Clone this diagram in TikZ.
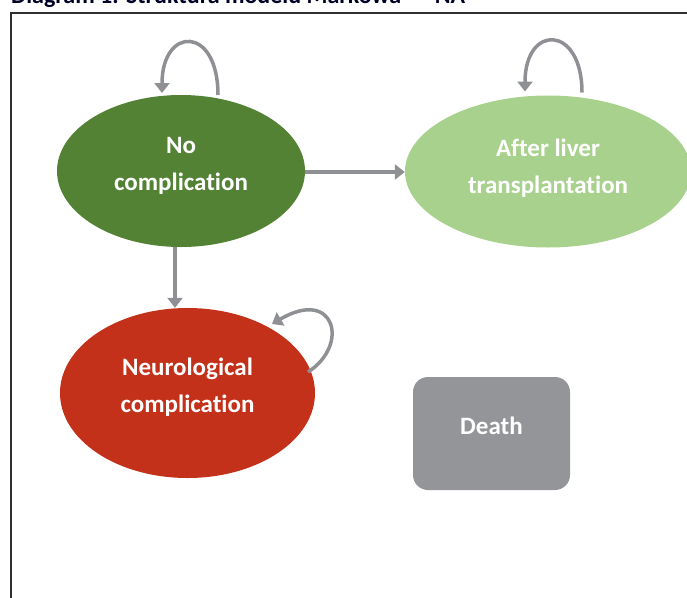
\documentclass[tikz,border=0pt]{standalone}
\usepackage{fontspec}
\setmainfont{Carlito}[Ligatures=NoCommon]
\usetikzlibrary{shapes.geometric,arrows.meta}
\definecolor{dkgreen}{HTML}{548235}
\definecolor{ltgreen}{HTML}{A9D18E}
\definecolor{redst}{HTML}{C4311A}
\definecolor{boxgray}{HTML}{939598}
\definecolor{arrgray}{HTML}{8E9094}
\definecolor{framec}{HTML}{303030}
\tikzset{
  state/.style={ellipse, inner sep=0pt},
  statetext/.style={inner sep=0pt, text=white, align=center,
    font=\fontsize{25}{37}\selectfont\bfseries},
  deadbox/.style={rectangle, rounded corners=15pt, fill=boxgray, inner sep=0pt,
    minimum width=157pt, minimum height=113pt},
  arr/.style={draw=arrgray, line width=3.5pt,
    -{Triangle[width=15pt,length=10pt]}},
}
\begin{document}
\begin{tikzpicture}[x=1pt,y=-1pt]
\useasboundingbox (0,0) rectangle (687,597);
% title (cut off)
\node[anchor=base west, inner sep=0pt, text=black!85!blue, font=\fontsize{24}{28}\selectfont\bfseries] (title) at (11,4)
  {Diagram 1. Struktura modelu Markowa \ -- \ NA};
% frame
\draw[framec, line width=2pt] (11,600) -- (11,13) -- (690,13);
% states
\node[state, fill=dkgreen, minimum width=248pt, minimum height=152pt] (nc) at (181,171) {};
\node[statetext] (nct) at ([yshift=5pt]nc.center) {No\\complication};
\node[state, fill=ltgreen, minimum width=286pt, minimum height=152pt] (alt) at (548,171.5) {};
\node[statetext] (altt) at ([yshift=3pt]alt.center) {After liver\\transplantation};
\node[state, fill=redst, minimum width=255pt, minimum height=170pt] (neu) at (187.5,393) {};
\node[statetext] (neut) at ([yshift=6pt]neu.center) {Neurological\\complication};
\node[deadbox] (death) at (491.5,433.5) {};
\node[statetext] (deatht) at ([yshift=8pt]death.center) {Death};
% transitions
\draw[arr] (nc.east |- 0,172) -- (alt.west |- 0,172);
\draw[arr] (nc.south -| 175,0) -- (neu.north -| 175,0);
% self loops
\draw[arr] ([shift={(37,-76)}]nc.center) .. controls +(0,-70) and +(0,-67) .. ([shift={(-19,-78)}]nc.center);
\draw[arr] ([shift={(34,-79)}]alt.center) .. controls +(0,-68) and +(0,-68) .. ([shift={(-23,-80)}]alt.center);
\draw[arr] ([shift={(120.5,-21)}]neu.center) .. controls +(42,-27) and +(63,-37) .. ([shift={(84.5,-69)}]neu.center);
\end{tikzpicture}
\end{document}
